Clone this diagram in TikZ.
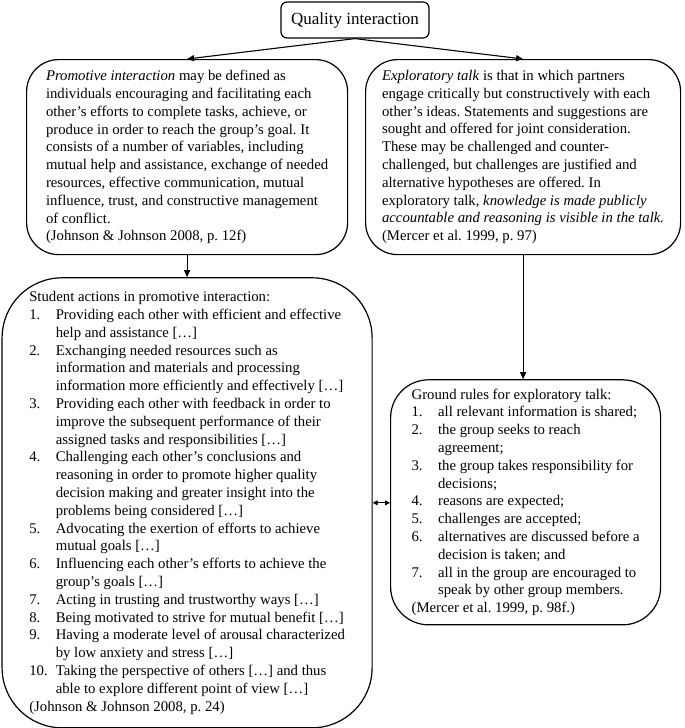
\documentclass[tikz,border=0pt]{standalone}
\usepackage{fontspec}
\setmainfont{Liberation Serif}
\usetikzlibrary{arrows.meta, positioning}
\frenchspacing
\newcommand{\numitem}[2]{\makebox[26.5pt][l]{#1}#2}
\newcommand{\contline}[1]{\hspace*{26.5pt}#1}

\begin{document}
\begin{tikzpicture}[
  x=1pt, y=-1pt,
  txtbox/.style={rectangle, draw, line width=1.2pt, align=left, inner xsep=4pt, inner ysep=6pt, font=\fontsize{14.75}{17.8}\selectfont},
  arr/.style={-{Triangle[length=7pt, width=6pt]}, line width=1.1pt},
  duo/.style={{Triangle[length=5pt, width=5pt]}-{Triangle[length=5pt, width=5pt]}, line width=1.1pt},
]
\useasboundingbox (0,0) rectangle (685,728);

% Top: title
\node[txtbox, rounded corners=6pt, align=center, minimum width=148pt, minimum height=36pt, font=\fontsize{17}{20}\selectfont] (qual) at (355,20) {Quality interaction};

% Upper row: the two definitions
\node[txtbox, rounded corners=32pt, anchor=north west, minimum width=321pt, minimum height=195pt] (promo) at (26,59) {%
\textit{Promotive interaction} may be defined as\\
individuals encouraging and facilitating each\\
other’s efforts to complete tasks, achieve, or\\
produce in order to reach the group’s goal. It\\
consists of a number of variables, including\\
mutual help and assistance, exchange of needed\\
resources, effective communication, mutual\\
influence, trust, and constructive management\\
of conflict.\\
(Johnson \& Johnson 2008, p. 12f)};
\node[txtbox, rounded corners=32pt, anchor=north west, minimum width=315pt, minimum height=195pt] (explo) at (365,59) {%
\textit{Exploratory talk} is that in which partners\\
engage critically but constructively with each\\
other’s ideas. Statements and suggestions are\\
sought and offered for joint consideration.\\
These may be challenged and counter-\\
challenged, but challenges are justified and\\
alternative hypotheses are offered. In\\
exploratory talk, \textit{knowledge is made publicly}\\
\textit{accountable and reasoning is visible in the talk.}\\
(Mercer et al. 1999, p. 97)};

% Lower left: student actions
\node[txtbox, rounded corners=60pt, below=22pt of promo, minimum width=370pt, minimum height=450pt] (actions) {%
Student actions in promotive interaction:\\
\numitem{1.}{Providing each other with efficient and effective}\\
\contline{help and assistance […]}\\
\numitem{2.}{Exchanging needed resources such as}\\
\contline{information and materials and processing}\\
\contline{information more efficiently and effectively […]}\\
\numitem{3.}{Providing each other with feedback in order to}\\
\contline{improve the subsequent performance of their}\\
\contline{assigned tasks and responsibilities […]}\\
\numitem{4.}{Challenging each other’s conclusions and}\\
\contline{reasoning in order to promote higher quality}\\
\contline{decision making and greater insight into the}\\
\contline{problems being considered […]}\\
\numitem{5.}{Advocating the exertion of efforts to achieve}\\
\contline{mutual goals […]}\\
\numitem{6.}{Influencing each other’s efforts to achieve the}\\
\contline{group’s goals […]}\\
\numitem{7.}{Acting in trusting and trustworthy ways […]}\\
\numitem{8.}{Being motivated to strive for mutual benefit […]}\\
\numitem{9.}{Having a moderate level of arousal characterized}\\
\contline{by low anxiety and stress […]}\\
\numitem{10.}{Taking the perspective of others […] and thus}\\
\contline{able to explore different point of view […]}\\
(Johnson \& Johnson 2008, p. 24)};

% Lower right: ground rules
\node[txtbox, rounded corners=38pt, below=124pt of explo, xshift=2.5pt, minimum width=270pt, minimum height=245pt] (rules) {%
Ground rules for exploratory talk:\\
\numitem{1.}{all relevant information is shared;}\\
\numitem{2.}{the group seeks to reach}\\
\contline{agreement;}\\
\numitem{3.}{the group takes responsibility for}\\
\contline{decisions;}\\
\numitem{4.}{reasons are expected;}\\
\numitem{5.}{challenges are accepted;}\\
\numitem{6.}{alternatives are discussed before a}\\
\contline{decision is taken; and}\\
\numitem{7.}{all in the group are encouraged to}\\
\contline{speak by other group members.}\\
(Mercer et al. 1999, p. 98f.)};

% Arrows
\draw[arr] (qual.south) -- (promo.north);
\draw[arr] (qual.south) -- (explo.north);
\draw[arr] (promo.south) -- (actions.north);
\draw[arr] (explo.south) -- (explo.south |- rules.north);
\draw[duo] (actions.east) -- (actions.east -| rules.west);
\end{tikzpicture}
\end{document}
